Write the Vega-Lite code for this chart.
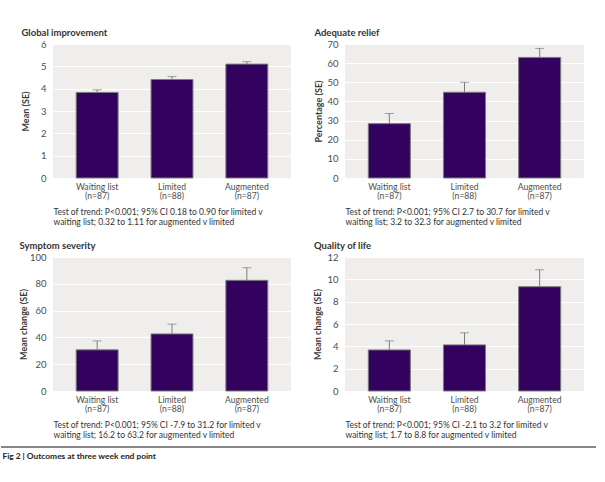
{
  "$schema": "https://vega.github.io/schema/vega-lite/v6.json",
  "padding": {"left": 0, "top": 28, "right": 5, "bottom": 0},
  "background": "white",
  "datasets": {
    "outcomes": [
      {"panel": "Global improvement", "group": "Waiting list (n=87)", "value": 3.83, "upper": 3.95},
      {"panel": "Global improvement", "group": "Limited (n=88)", "value": 4.41, "upper": 4.54},
      {"panel": "Global improvement", "group": "Augmented (n=87)", "value": 5.1, "upper": 5.21},
      {"panel": "Adequate relief", "group": "Waiting list (n=87)", "value": 28.4, "upper": 33.7},
      {"panel": "Adequate relief", "group": "Limited (n=88)", "value": 44.8, "upper": 50.0},
      {"panel": "Adequate relief", "group": "Augmented (n=87)", "value": 63.0, "upper": 67.7},
      {"panel": "Symptom severity", "group": "Waiting list (n=87)", "value": 30.7, "upper": 37.4},
      {"panel": "Symptom severity", "group": "Limited (n=88)", "value": 42.6, "upper": 49.9},
      {"panel": "Symptom severity", "group": "Augmented (n=87)", "value": 82.6, "upper": 92.0},
      {"panel": "Quality of life", "group": "Waiting list (n=87)", "value": 3.68, "upper": 4.49},
      {"panel": "Quality of life", "group": "Limited (n=88)", "value": 4.13, "upper": 5.21},
      {"panel": "Quality of life", "group": "Augmented (n=87)", "value": 9.34, "upper": 10.86}
    ],
    "caption": [{"caption": "Fig 2 | Outcomes at three week end point"}]
  },
  "bounds": "flush",
  "columns": 2,
  "spacing": {"row": 79, "column": 54},
  "concat": [
    {
      "width": 238, "height": 134,
      "title": "Global improvement",
      "data": {"name": "outcomes"},
      "transform": [{"filter": "datum.panel == 'Global improvement'"}],
      "encoding": {
        "x": {"field": "group", "type": "nominal", "sort": null,
          "scale": {"paddingInner": 0.44, "paddingOuter": 0.31},
          "axis": {"title": ["Test of trend: P<0.001; 95% CI 0.18 to 0.90 for limited v", "waiting list; 0.32 to 1.11 for augmented v limited"],
            "labelExpr": "[substring(datum.label, 0, indexof(datum.label, ' (')), substring(datum.label, indexof(datum.label, '('))]"}}
      },
      "layer": [
        {"mark": {"type": "bar", "fill": "#33025e", "stroke": "#7c7c7c", "strokeWidth": 1},
         "encoding": {"y": {"field": "value", "type": "quantitative",
           "scale": {"domain": [0, 6], "nice": false},
           "axis": {"title": "Mean (SE)", "values": [0, 1, 2, 3, 4, 5, 6], "titlePadding": 10}}}},
        {"mark": {"type": "rule", "color": "#7c7c7c", "strokeWidth": 1},
         "encoding": {"y": {"field": "value", "type": "quantitative", "axis": {"title": "Mean (SE)", "values": [0, 1, 2, 3, 4, 5, 6], "titlePadding": 10}}, "y2": {"field": "upper"}}},
        {"mark": {"type": "tick", "color": "#7c7c7c", "thickness": 1, "size": 9},
         "encoding": {"y": {"field": "upper", "type": "quantitative", "axis": {"title": "Mean (SE)", "values": [0, 1, 2, 3, 4, 5, 6], "titlePadding": 10}}}}
      ]
    },
    {
      "width": 239, "height": 134,
      "title": "Adequate relief",
      "data": {"name": "outcomes"},
      "transform": [{"filter": "datum.panel == 'Adequate relief'"}],
      "encoding": {
        "x": {"field": "group", "type": "nominal", "sort": null,
          "scale": {"paddingInner": 0.44, "paddingOuter": 0.31},
          "axis": {"title": ["Test of trend: P<0.001; 95% CI 2.7 to 30.7 for limited v", "waiting list; 3.2 to 32.3 for augmented v limited"],
            "labelExpr": "[substring(datum.label, 0, indexof(datum.label, ' (')), substring(datum.label, indexof(datum.label, '('))]"}}
      },
      "layer": [
        {"mark": {"type": "bar", "fill": "#33025e", "stroke": "#7c7c7c", "strokeWidth": 1},
         "encoding": {"y": {"field": "value", "type": "quantitative",
           "scale": {"domain": [0, 70], "nice": false},
           "axis": {"title": "Percentage (SE)", "values": [0, 10, 20, 30, 40, 50, 60, 70], "titlePadding": 3.5}}}},
        {"mark": {"type": "rule", "color": "#7c7c7c", "strokeWidth": 1},
         "encoding": {"y": {"field": "value", "type": "quantitative", "axis": {"title": "Percentage (SE)", "values": [0, 10, 20, 30, 40, 50, 60, 70], "titlePadding": 3.5}}, "y2": {"field": "upper"}}},
        {"mark": {"type": "tick", "color": "#7c7c7c", "thickness": 1, "size": 9},
         "encoding": {"y": {"field": "upper", "type": "quantitative", "axis": {"title": "Percentage (SE)", "values": [0, 10, 20, 30, 40, 50, 60, 70], "titlePadding": 3.5}}}}
      ]
    },
    {
      "width": 238, "height": 134,
      "title": "Symptom severity",
      "data": {"name": "outcomes"},
      "transform": [{"filter": "datum.panel == 'Symptom severity'"}],
      "encoding": {
        "x": {"field": "group", "type": "nominal", "sort": null,
          "scale": {"paddingInner": 0.44, "paddingOuter": 0.31},
          "axis": {"title": ["Test of trend: P<0.001; 95% CI -7.9 to 31.2 for limited v", "waiting list; 16.2 to 63.2 for augmented v limited"],
            "labelExpr": "[substring(datum.label, 0, indexof(datum.label, ' (')), substring(datum.label, indexof(datum.label, '('))]"}}
      },
      "layer": [
        {"mark": {"type": "bar", "fill": "#33025e", "stroke": "#7c7c7c", "strokeWidth": 1},
         "encoding": {"y": {"field": "value", "type": "quantitative",
           "scale": {"domain": [0, 100], "nice": false},
           "axis": {"title": "Mean change (SE)", "values": [0, 20, 40, 60, 80, 100], "titlePadding": 1}}}},
        {"mark": {"type": "rule", "color": "#7c7c7c", "strokeWidth": 1},
         "encoding": {"y": {"field": "value", "type": "quantitative", "axis": {"title": "Mean change (SE)", "values": [0, 20, 40, 60, 80, 100], "titlePadding": 1}}, "y2": {"field": "upper"}}},
        {"mark": {"type": "tick", "color": "#7c7c7c", "thickness": 1, "size": 9},
         "encoding": {"y": {"field": "upper", "type": "quantitative", "axis": {"title": "Mean change (SE)", "values": [0, 20, 40, 60, 80, 100], "titlePadding": 1}}}}
      ]
    },
    {
      "width": 239, "height": 134,
      "title": "Quality of life",
      "data": {"name": "outcomes"},
      "transform": [{"filter": "datum.panel == 'Quality of life'"}],
      "encoding": {
        "x": {"field": "group", "type": "nominal", "sort": null,
          "scale": {"paddingInner": 0.44, "paddingOuter": 0.31},
          "axis": {"title": ["Test of trend: P<0.001; 95% CI -2.1 to 3.2 for limited v", "waiting list; 1.7 to 8.8 for augmented v limited"],
            "labelExpr": "[substring(datum.label, 0, indexof(datum.label, ' (')), substring(datum.label, indexof(datum.label, '('))]"}}
      },
      "layer": [
        {"mark": {"type": "bar", "fill": "#33025e", "stroke": "#7c7c7c", "strokeWidth": 1},
         "encoding": {"y": {"field": "value", "type": "quantitative",
           "scale": {"domain": [0, 12], "nice": false},
           "axis": {"title": "Mean change (SE)", "values": [0, 2, 4, 6, 8, 10, 12], "titlePadding": 4}}}},
        {"mark": {"type": "rule", "color": "#7c7c7c", "strokeWidth": 1},
         "encoding": {"y": {"field": "value", "type": "quantitative", "axis": {"title": "Mean change (SE)", "values": [0, 2, 4, 6, 8, 10, 12], "titlePadding": 4}}, "y2": {"field": "upper"}}},
        {"mark": {"type": "tick", "color": "#7c7c7c", "thickness": 1, "size": 9},
         "encoding": {"y": {"field": "upper", "type": "quantitative", "axis": {"title": "Mean change (SE)", "values": [0, 2, 4, 6, 8, 10, 12], "titlePadding": 4}}}}
      ]
    },
    {
      "width": 238, "height": 4,
      "view": {"fill": null, "stroke": null},
      "data": {"name": "caption"},
      "title": {"text": "Fig 2 | Outcomes at three week end point", "orient": "bottom", "anchor": "start", "dx": 2, "dy": -22, "offset": 0, "fontSize": 8.4, "fontWeight": "bold", "color": "#222", "baseline": "top"},
      "mark": {"type": "rule", "color": "#111", "strokeWidth": 1.2},
      "encoding": {
        "x": {"datum": -0.2185, "type": "quantitative", "scale": {"domain": [0, 1], "nice": false, "zero": false}, "axis": null},
        "x2": {"datum": 2.2815},
        "y": {"datum": 6.75, "type": "quantitative", "scale": {"domain": [0, 1], "nice": false, "zero": false}, "axis": null}
      }
    }
  ],
  "config": {
    "font": "Lato",
    "view": {"fill": "#efeeec", "stroke": null},
    "axis": {"domain": false, "ticks": false, "labelFont": "Lato", "labelFontSize": 9, "labelColor": "#4d4d4d", "titleFont": "Lato", "titleFontSize": 9, "titleColor": "#3a3a3a"},
    "axisY": {"grid": true, "gridColor": "#ffffff", "gridWidth": 1, "labelPadding": 7, "titleFontWeight": "bold", "labelFontSize": 9.5, "minExtent": 0},
    "axisX": {"grid": false, "labelAngle": 0, "labelPadding": 4, "labelFontSize": 8.6, "labelLineHeight": 9.5, "titleFontWeight": "normal", "titleAnchor": "start", "titleAlign": "left", "titlePadding": 7, "titleLineHeight": 10, "titleFontSize": 8.5, "titleColor": "#333"},
    "title": {"anchor": "start", "fontSize": 9.5, "fontWeight": "bold", "color": "#333", "offset": 1.5, "font": "Lato"}
  }
}
